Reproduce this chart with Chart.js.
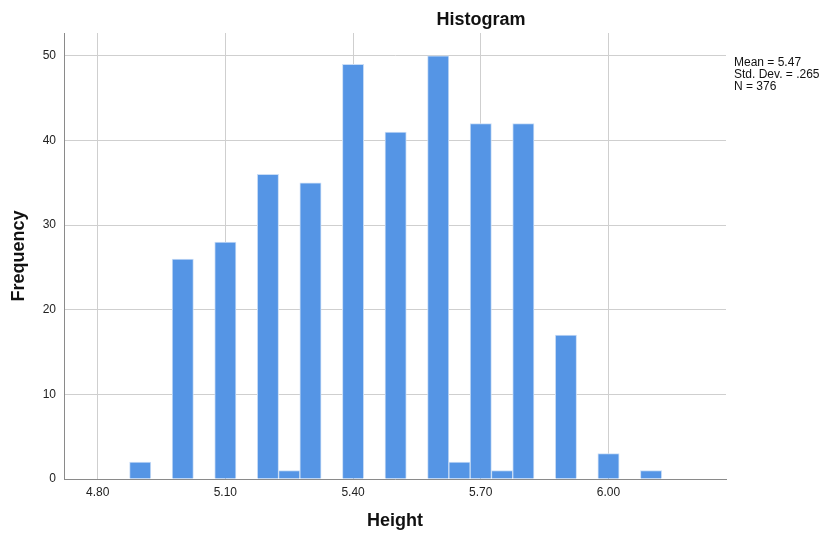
<!DOCTYPE html>
<html>
<head>
<meta charset="utf-8">
<script src="https://cdn.jsdelivr.net/npm/chart.js@4"></script>
<style>
	html, body { margin: 0; padding: 0; background: #fff; }
	#wrap { width: 827px; height: 536px; position: relative; }
</style>
</head>
<body>
<div id="wrap"><canvas id="chart-histogram"></canvas></div>
<script>
// Chart data
const BIN_CENTERS = [4.90, 5.00, 5.10, 5.20, 5.25, 5.30, 5.40, 5.50, 5.60, 5.65, 5.70, 5.75, 5.80, 5.90, 6.00, 6.10];
const FREQUENCIES = [2, 26, 28, 36, 1, 35, 49, 41, 50, 2, 42, 1, 42, 17, 3, 1];
const X_TICKS = [4.80, 5.10, 5.40, 5.70, 6.00];
const Y_TICKS = [0, 10, 20, 30, 40, 50];
const TITLE = "Histogram";
const STATS_LINES = ["Mean = 5.47", "Std. Dev. = .265", "N = 376"];

const FONT = "'Liberation Sans', Arial, sans-serif";
const GRID_COLOR = "#cfcfcf";
const AXIS_COLOR = "#8a8a8a";

// Title + stats box (SPSS style)
const textPlugin = {
	id: "histText",
	afterDraw(chart) {
		const { ctx, chartArea } = chart;
		ctx.save();
		ctx.fillStyle = "#111";
		ctx.font = "bold 18px " + FONT;
		ctx.textAlign = "center";
		ctx.textBaseline = "alphabetic";
		ctx.fillText(TITLE, 481, 25);

		ctx.font = "12px " + FONT;
		ctx.textAlign = "left";
		STATS_LINES.forEach((line, i) => {
			ctx.fillText(line, chartArea.right + 8, 66 + i * 12);
		});
		ctx.restore();
	},
};

const CHART_CONFIG = {
	type: "bar",
	data: {
		datasets: [
			{
				label: "Frequency",
				data: BIN_CENTERS.map((x, i) => ({ x: x, y: FREQUENCIES[i] })),
				backgroundColor: "#5595e5",
				borderColor: "#c9ddf6",
				borderWidth: 1,
				barPercentage: 1,
				categoryPercentage: 1,
			},
		],
	},
	options: {
		responsive: true,
		maintainAspectRatio: false,
		animation: false,
		layout: {
			padding: { top: 33, right: 101, left: 0, bottom: 0 },
		},
		scales: {
			x: {
				type: "linear",
				offset: false,
				min: 4.721,
				max: 6.276,
				afterBuildTicks: (scale) => {
					scale.ticks = X_TICKS.map((v) => ({ value: v }));
				},
				afterFit: (scale) => {
					scale.height = 57;
				},
				border: { display: true, color: AXIS_COLOR, width: 1 },
				grid: { color: GRID_COLOR, drawTicks: false, offset: false },
				ticks: {
					padding: 6,
					color: "#222",
					font: { family: FONT, size: 12 },
					callback: (v) => Number(v).toFixed(2),
				},
				title: {
					display: true,
					text: "Height",
					color: "#111",
					font: { family: FONT, size: 18, weight: "bold" },
				},
			},
			y: {
				min: 0,
				max: 52.7,
				afterBuildTicks: (scale) => {
					scale.ticks = Y_TICKS.map((v) => ({ value: v }));
				},
				afterFit: (scale) => {
					scale.width = 64;
				},
				border: { display: true, color: AXIS_COLOR, width: 1 },
				grid: { color: GRID_COLOR, drawTicks: false },
				ticks: {
					padding: 8,
					color: "#222",
					font: { family: FONT, size: 12 },
				},
				title: {
					display: true,
					text: "Frequency",
					color: "#111",
					padding: { top: 8, bottom: 4 },
					font: { family: FONT, size: 18, weight: "bold" },
				},
			},
		},
		plugins: {
			legend: { display: false },
			tooltip: { enabled: false },
		},
	},
	plugins: [textPlugin],
};

new Chart(document.getElementById("chart-histogram"), CHART_CONFIG);
</script>
</body>
</html>
